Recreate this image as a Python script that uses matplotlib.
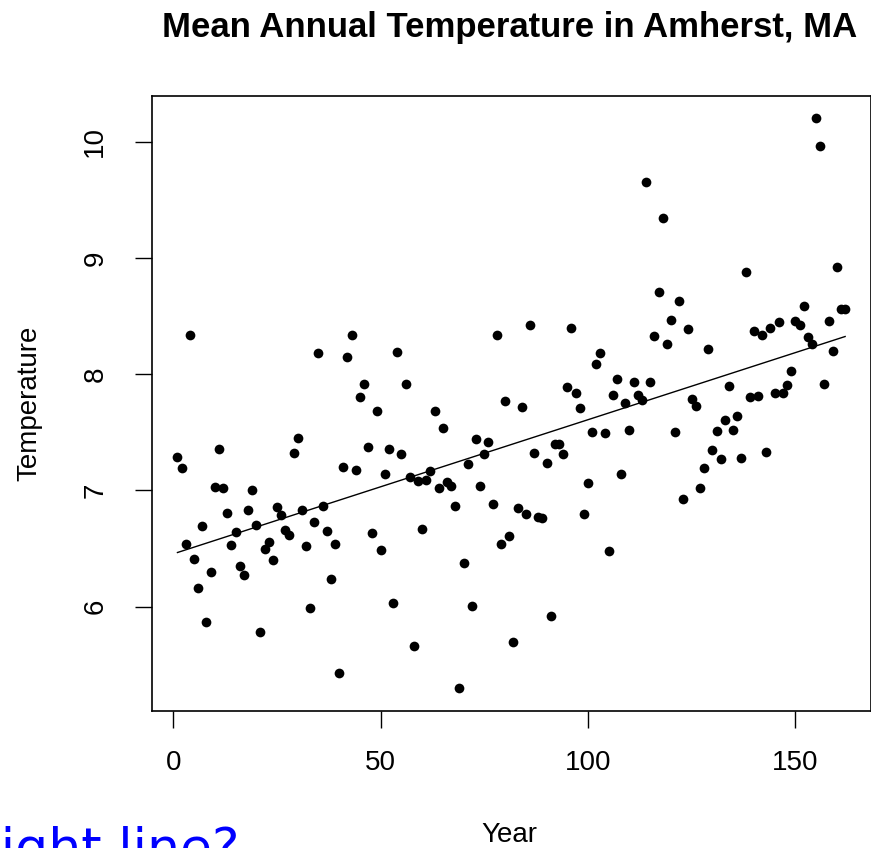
import numpy as np
import matplotlib
matplotlib.use("Agg")
import matplotlib.pyplot as plt

# ---- data ----
years = list(range(1, 163))
temps = [
    7.29, 7.19, 6.54, 8.34, 6.41, 6.16, 6.69, 5.87, 6.30, 7.03,
    7.36, 7.02, 6.81, 6.53, 6.64, 6.35, 6.27, 6.83, 7.00, 6.70,
    5.78, 6.50, 6.56, 6.40, 6.86, 6.79, 6.66, 6.62, 7.32, 7.45,
    6.83, 6.52, 5.99, 6.73, 8.18, 6.87, 6.65, 6.24, 6.54, 5.43,
    7.20, 8.15, 8.34, 7.18, 7.80, 7.92, 7.37, 6.63, 7.68, 6.49,
    7.14, 7.36, 6.03, 8.19, 7.31, 7.92, 7.12, 5.66, 7.08, 6.67,
    7.09, 7.17, 7.68, 7.02, 7.54, 7.07, 7.04, 6.87, 5.30, 6.38,
    7.23, 6.01, 7.44, 7.04, 7.31, 7.42, 6.88, 8.34, 6.54, 7.77,
    6.61, 5.70, 6.85, 7.72, 6.80, 8.42, 7.32, 6.77, 6.76, 7.24,
    5.92, 7.40, 7.40, 7.31, 7.89, 8.40, 7.84, 7.71, 6.80, 7.06,
    7.50, 8.09, 8.18, 7.49, 6.48, 7.82, 7.96, 7.14, 7.75, 7.52,
    7.93, 7.82, 7.78, 9.65, 7.93, 8.33, 8.71, 9.34, 8.26, 8.47,
    7.50, 8.63, 6.93, 8.39, 7.79, 7.73, 7.02, 7.19, 8.22, 7.35,
    7.51, 7.27, 7.61, 7.90, 7.52, 7.64, 7.28, 8.88, 7.80, 8.37,
    7.81, 8.34, 7.33, 8.40, 7.84, 8.45, 7.84, 7.91, 8.03, 8.46,
    8.42, 8.59, 8.32, 8.26, 10.20, 9.96, 7.92, 8.46, 8.20, 8.92,
    8.56, 8.56,
]
x_ticks = [0, 50, 100, 150]
y_ticks = [6, 7, 8, 9, 10]
title = "Mean Annual Temperature in Amherst, MA"
x_label = "Year"
y_label = "Temperature"
note = "Straight line?"

FONT = "Liberation Sans"
W, H = 871, 848
fig = plt.figure(figsize=(W / 100, H / 100), dpi=100)
fig.patch.set_facecolor("white")

L, R, T, B = 152, 870.5, 95.7, 710.7
ax = fig.add_axes([L / W, (H - B) / H, (R - L) / W, (B - T) / H])

yr = np.array(years, dtype=float)
tp = np.array(temps, dtype=float)
ax.plot(yr, tp, "o", color="black", ms=7.0, mew=0, zorder=3)
slope, icpt = np.polyfit(yr, tp, 1)
xl = np.array([yr.min(), yr.max()])
ax.plot(xl, icpt + slope * xl, color="black", lw=1.0, zorder=2)

ax.set_xlim(-5.14, 168.12)
ax.set_ylim(5.1054, 10.3957)
ax.set_xticks(x_ticks)
ax.set_yticks(y_ticks)
ax.set_xticklabels([str(v) for v in x_ticks], fontfamily=FONT, fontsize=20)
ax.set_yticklabels([str(v) for v in y_ticks], fontfamily=FONT, fontsize=20,
                   rotation=90, va="center")
ax.tick_params(axis="x", length=12.5, width=1.0, pad=16, direction="out")
ax.tick_params(axis="y", length=12.5, width=1.0, pad=19, direction="out")
for s in ax.spines.values():
    s.set_linewidth(1.2)
    s.set_color("black")

ax.set_xlabel(x_label, fontfamily=FONT, fontsize=20)
ax.set_ylabel(y_label, fontfamily=FONT, fontsize=20)
ax.xaxis.set_label_coords((509.5 - L) / (R - L), (B - 822) / (B - T))
ax.yaxis.set_label_coords((42 - L) / (R - L), 0.5)

fig.text(509.5 / W, (H - 36.7) / H, title, fontfamily=FONT, fontsize=25,
         fontweight="bold", ha="center", va="baseline")
fig.text(239 / W, (H - 864.5) / H, note, fontfamily="DejaVu Sans", fontsize=37.5,
         color="#0000FF", ha="right", va="baseline")

fig.savefig("out.png", dpi=100)
